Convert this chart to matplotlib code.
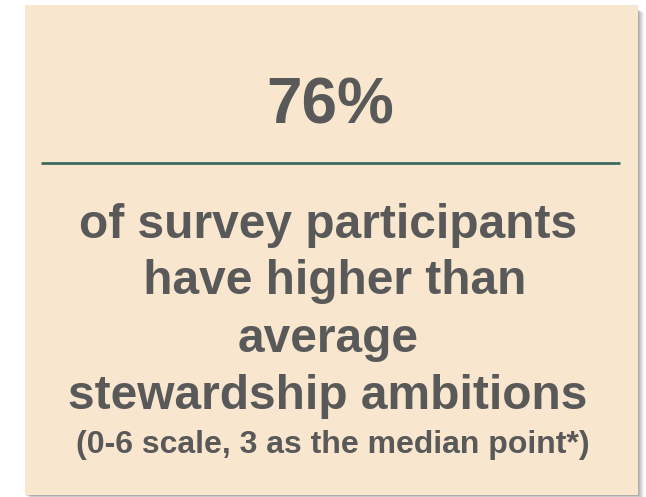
import matplotlib.pyplot as plt
from matplotlib.patches import Rectangle

# --- data ---
headline = '76%'
body_lines = ['of survey participants', ' have higher than', 'average', 'stewardship ambitions']
note = '(0-6 scale, 3 as the median point*)'

W, H = 646, 497
card_color = '#f9e6cf'
text_color = '#595959'
rule_color = '#3e6b5d'

fig = plt.figure(figsize=(W / 100, H / 100), dpi=100)
ax = fig.add_axes([0, 0, 1, 1])
ax.set_xlim(0, W)
ax.set_ylim(H, 0)
ax.axis('off')

# soft shadow right/bottom of the card
for i, a in enumerate([0.10, 0.10, 0.10, 0.10, 0.08, 0.06, 0.04, 0.02]):
    ax.add_patch(Rectangle((25 + i, 5 + 4 + i * 0.5), 613, 490 - 4, color='#404040',
                           alpha=a, lw=0, zorder=1))
ax.add_patch(Rectangle((25, 5), 613, 490, color=card_color, lw=0, zorder=2))

font = dict(family=['Liberation Sans', 'DejaVu Sans'], weight='bold', color=text_color,
            ha='center', va='baseline', zorder=3)

ax.text(330, 124, headline, fontsize=46, **font)
ax.plot([41, 620], [163, 163], color=rule_color, lw=2, solid_capstyle='butt', zorder=3)

baselines = [238, 294, 352, 409]
for txt, y in zip(body_lines, baselines):
    ax.text(328, y, txt, fontsize=34.5, **font)
ax.text(333, 453, note, fontsize=23, **font)

fig.savefig('out.png', dpi=100)
